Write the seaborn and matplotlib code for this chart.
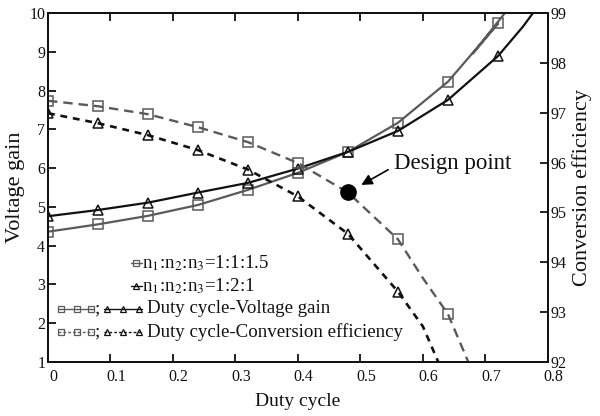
import matplotlib
matplotlib.use("Agg")
import matplotlib.pyplot as plt
import matplotlib.transforms as mtransforms
import seaborn as sns

# Duty cycle at which the measured points were taken
duty = [0.0, 0.08, 0.16, 0.24, 0.32, 0.40, 0.48, 0.56, 0.64, 0.72]

# Voltage gain (left axis)
gain_115 = [4.36, 4.55, 4.77, 5.05, 5.44, 5.88, 6.42, 7.17, 8.23, 9.73]
gain_121 = [4.76, 4.92, 5.11, 5.37, 5.62, 5.99, 6.42, 6.96, 7.76, 8.89]
# continuation of the gain curves up to the top of the frame
gain_115_tail_x = [0.68, 0.731]
gain_115_tail = [8.96, 10.0]
gain_121_tail_x = [0.76, 0.776]
gain_121_tail = [9.65, 10.0]

# Conversion efficiency in % (right axis)
eff_duty_115 = [0.0, 0.08, 0.16, 0.24, 0.32, 0.40, 0.48, 0.56, 0.60, 0.64, 0.6725]
eff_115 = [97.24, 97.13, 96.97, 96.71, 96.41, 95.99, 95.40, 94.46, 93.68, 92.96, 92.0]
eff_duty_121 = [0.0, 0.08, 0.16, 0.24, 0.32, 0.40, 0.48, 0.56, 0.60, 0.6245]
eff_121 = [96.99, 96.79, 96.55, 96.25, 95.86, 95.32, 94.57, 93.41, 92.71, 92.0]

design_duty = 0.48
design_eff = 95.40

x_ticks = [0, 0.1, 0.2, 0.3, 0.4, 0.5, 0.6, 0.7, 0.8]
x_ticklabels = ["0", "0.1", "0.2", "0.3", "0.4", "0.5", "0.6", "0.7", "0.8"]
gain_ticks = [1, 2, 3, 4, 5, 6, 7, 8, 9, 10]
eff_ticks = [92, 93, 94, 95, 96, 97, 98, 99]

legend_labels = [r"n$_1$:n$_2$:n$_3$=1:1:1.5", r"n$_1$:n$_2$:n$_3$=1:2:1",
                 "Duty cycle-Voltage gain", "Duty cycle-Conversion efficiency"]

sns.set_theme(style="white")
plt.rcParams["font.family"] = ["Liberation Serif", "DejaVu Serif"]
plt.rcParams["mathtext.fontset"] = "stix"
plt.rcParams["axes.linewidth"] = 1.3

GRAY = "#5a5a5a"
BLACK = "#111111"
TICK_FS = 11.5
LEG_FS = 13.6
LABEL_FS = 16

fig = plt.figure(figsize=(6.0, 4.16), dpi=100)
ax = fig.add_axes([0.08, 0.1298, 0.8333, 0.8389])
ax2 = ax.twinx()

mk = dict(markersize=7.5, markerfacecolor="none", markeredgewidth=1.1)

# voltage gain curves (solid)
sns.lineplot(x=duty + gain_115_tail_x, y=gain_115 + gain_115_tail, ax=ax, color=GRAY,
             linewidth=1.6, marker="s", markevery=list(range(len(duty))),
             markeredgecolor=GRAY, sort=False, estimator=None, **mk)
sns.lineplot(x=duty + gain_121_tail_x, y=gain_121 + gain_121_tail, ax=ax, color=BLACK,
             linewidth=1.6, marker="^", markevery=list(range(len(duty))),
             markeredgecolor=BLACK, sort=False, estimator=None, **mk)

# conversion efficiency curves (dashed)
sns.lineplot(x=eff_duty_115, y=eff_115, ax=ax2, color=GRAY, linewidth=1.7,
             marker="s", markevery=[0, 1, 2, 3, 4, 5, 7, 9],
             markeredgecolor=GRAY, sort=False, estimator=None, **mk)
ax2.lines[-1].set_dashes([4, 2.5])
sns.lineplot(x=eff_duty_121, y=eff_121, ax=ax2, color=BLACK, linewidth=1.9,
             marker="^", markevery=[0, 1, 2, 3, 4, 5, 6, 7],
             markeredgecolor=BLACK, sort=False, estimator=None, **mk)
ax2.lines[-1].set_dashes([2.6, 2.2])

# design point
ax2.plot([design_duty], [design_eff], "o", color="black", markersize=11, zorder=5)
ax2.annotate("Design point", xy=(design_duty, design_eff), xycoords="data",
             xytext=(33, 21), textcoords="offset points", ha="left", va="center",
             fontsize=16.5, color=BLACK,
             arrowprops=dict(arrowstyle="-|>", color="black", lw=1.2,
                             mutation_scale=16, relpos=(0, 0.35),
                             shrinkA=2, shrinkB=11))

# axes limits and ticks
ax.set_xlim(0, 0.8)
ax.set_ylim(1, 10)
ax2.set_ylim(92, 99)
ax.set_xticks(x_ticks)
ax.set_xticklabels(x_ticklabels)
ax.set_yticks(gain_ticks)
ax2.set_yticks(eff_ticks)
ax.tick_params(axis="x", direction="in", length=6, width=1.3, top=True, bottom=True,
               labelsize=TICK_FS, pad=5, colors=BLACK)
ax.tick_params(axis="y", direction="in", length=6, width=1.3, left=True,
               labelsize=TICK_FS, pad=2, colors=BLACK)
ax2.tick_params(axis="y", direction="in", length=6, width=1.3, right=True,
                labelsize=TICK_FS, pad=2, colors=BLACK)
shift = mtransforms.ScaledTranslation(4 / 72, 0, fig.dpi_scale_trans)
for lab in ax.get_xticklabels():
    lab.set_transform(lab.get_transform() + shift)
for spine in list(ax.spines.values()) + list(ax2.spines.values()):
    spine.set_color(BLACK)

ax.set_xlabel("Duty cycle", fontsize=14, color=BLACK, labelpad=6)
ax.set_ylabel("Voltage gain", fontsize=LABEL_FS, color=BLACK, labelpad=3)
ax2.set_ylabel("Conversion efficiency", fontsize=LABEL_FS, color=BLACK, labelpad=4)

# hand-built legend in axes coordinates
T = ax.transAxes
sm = dict(markersize=4.5, markerfacecolor="none", markeredgewidth=0.9, transform=T,
          clip_on=False)
ax.plot([0.166, 0.177, 0.188], [0.2845] * 3, color=GRAY, lw=1.0, marker="s",
        markevery=[1], markeredgecolor=GRAY, **sm)
ax.plot([0.166, 0.177, 0.188], [0.2178] * 3, color=BLACK, lw=1.0, marker="^",
        markevery=[1], markeredgecolor=BLACK, **sm)
ax.text(0.1874, 0.2845, legend_labels[0], transform=T, fontsize=LEG_FS, va="center",
        ha="left", color=BLACK)
ax.text(0.1874, 0.2178, legend_labels[1], transform=T, fontsize=LEG_FS, va="center",
        ha="left", color=BLACK)
for yy, ls, lab in [(0.1519, "-", legend_labels[2]), (0.0851, (0, (2, 1.5)), legend_labels[3])]:
    ax.plot([0.020, 0.0254, 0.0574, 0.0854, 0.090], [yy] * 5, color=GRAY, lw=1.0,
            linestyle=ls, marker="s", markevery=[1, 2, 3], markeredgecolor=GRAY, **sm)
    ax.text(0.0985, yy, ";", transform=T, fontsize=LEG_FS, va="center", ha="center",
            color=BLACK)
    ax.plot([0.112, 0.118, 0.150, 0.182, 0.188], [yy] * 5, color=BLACK, lw=1.0,
            linestyle=ls, marker="^", markevery=[1, 2, 3], markeredgecolor=BLACK, **sm)
    ax.text(0.1974, yy, lab, transform=T, fontsize=LEG_FS, va="center", ha="left",
            color=BLACK)

fig.savefig("out.png", dpi=100)
